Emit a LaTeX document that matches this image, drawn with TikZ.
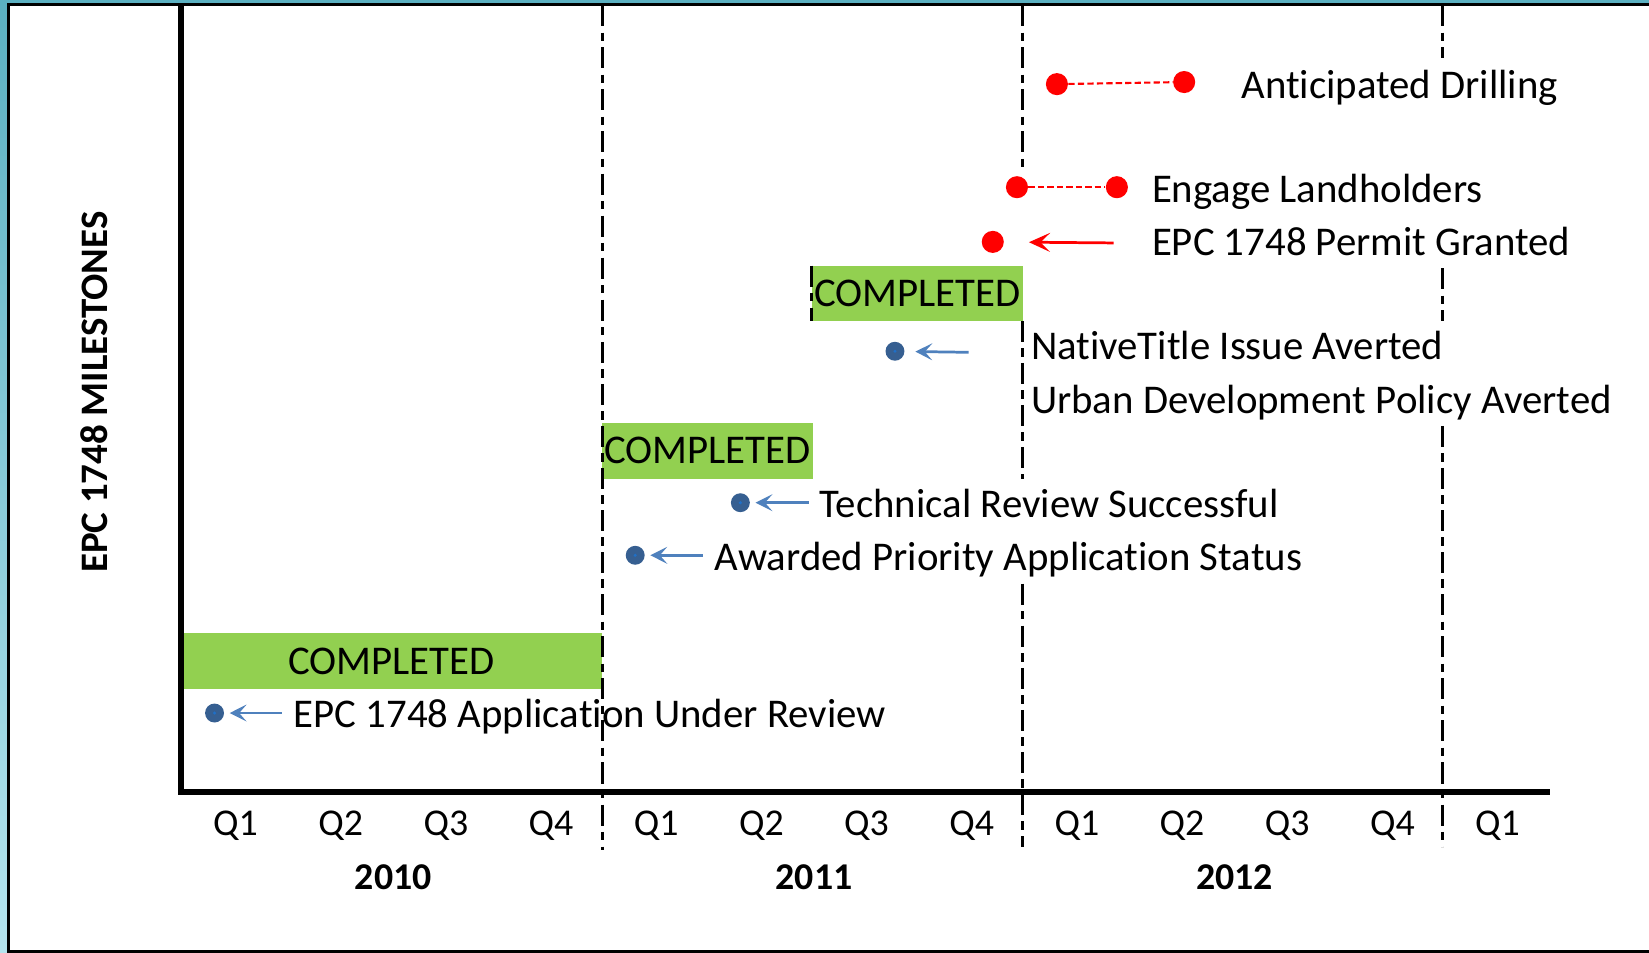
\documentclass[tikz,border=0pt]{standalone}
\usepackage{fontspec}
\setmainfont{Carlito}[Ligatures={NoCommon}]
\usetikzlibrary{arrows.meta}
\definecolor{tealA}{HTML}{5BB0C1}
\definecolor{tealB}{HTML}{B4E4EE}
\definecolor{grn}{HTML}{92D050}
\definecolor{dotblue}{HTML}{365F91}
\definecolor{dotspot}{HTML}{1F70C8}
\definecolor{arrblue}{HTML}{4F81BD}
\definecolor{mred}{HTML}{FF0000}
\begin{document}
\begin{tikzpicture}[x=0.5pt,y=-0.5pt,
 lbl/.style={font=\fontsize{19.4}{23}\selectfont, anchor=base west, inner sep=0pt},
 qlbl/.style={font=\fontsize{18}{22}\selectfont, anchor=base, inner sep=0pt},
 yrlbl/.style={font=\fontsize{18}{22}\selectfont\bfseries, anchor=base, inner sep=0pt},
 donebox/.style={fill=grn, inner sep=0pt, font=\fontsize{19.4}{23}\selectfont},
 bdot/.style={circle, fill=dotblue, minimum size=9pt, inner sep=0pt},
 rdot/.style={circle, fill=mred, minimum size=10.5pt, inner sep=0pt},
 barrow/.style={draw=arrblue, line width=1.3pt, -{Stealth[length=8pt,width=8pt,inset=3.5pt]}, shorten >=2.5pt},
 rarrow/.style={draw=mred, line width=1.3pt, -{Stealth[length=10pt,width=9pt,inset=4.5pt]}, shorten >=11.75pt},
 rdash/.style={draw=mred, line width=1pt, dash pattern=on 3pt off 1.5pt},
 yearline/.style={line width=1.4pt, dash pattern=on 10pt off 3pt on 4pt off 3pt},
]
\useasboundingbox (0,0) rectangle (1568,906);
\clip (0,0) rectangle (1568,906);
% background frame
\shade[top color=tealA, bottom color=tealB] (0,0) rectangle (1568,906);
\draw[line width=1.25pt, fill=white] (8,4) rectangle (1600,904.5);

% completed boxes
\node[donebox, minimum width=200pt, minimum height=26.5pt] (c1) at (372,628.5) {COMPLETED};
\node[donebox, minimum width=100.5pt, minimum height=26.5pt] (c2) at (672.5,428.5) {COMPLETED};
\node[donebox, minimum width=100.5pt, minimum height=26pt] (c3) at (872.5,279) {COMPLETED};

% year boundary lines
\draw[yearline] (572.7,5) -- (572.7,808);
\draw[yearline] (972,5) -- (972,160);
\draw[yearline] (972,305) -- (972,455);
\draw[yearline] (972,555) -- (972,805);
\draw[yearline] (1372,5) -- (1372,55);
\draw[yearline] (1372,255) -- (1372,305);
\draw[yearline] (1372,405) -- (1372,805);
\draw[yearline] (c3.north west) -- (c3.south west);

% axes
\draw[line width=3.2pt] (172,4) -- (172,753) -- (1474,753);

% quarter and year labels
\foreach \i in {0,...,12}{
  \pgfmathtruncatemacro\qq{mod(\i,4)+1}
  \node[qlbl] (q\i) at (224+100*\i,794) {Q\qq};
}
\node[yrlbl] (y2010) at (374,846) {2010};
\node[yrlbl] (y2011) at (774,846) {2011};
\node[yrlbl] (y2012) at (1174,846) {2012};

\node[font=\fontsize{18.5}{22}\selectfont\bfseries, rotate=90, inner sep=0pt] (ytitle) at (90,373) {EPC 1748 MILESTONES};

% blue milestones
\node[bdot] (d1) at (204,678) {};
\node[bdot] (d2) at (604,528) {};
\node[bdot] (d3) at (704,478) {};
\node[bdot] (d4) at (851,334) {};
\foreach \d in {d1,d2,d3,d4}{\fill[dotspot] (\d) circle (1.6);}
\coordinate (a1) at (268,678);
\coordinate (a2) at (668,528);
\coordinate (a3) at (769,478);
\coordinate (a4) at (921,335);
\draw[barrow] (a1) -- (d1);
\draw[barrow] (a2) -- (d2);
\draw[barrow] (a3) -- (d3);
\draw[barrow, shorten >=5pt] (a4) -- (d4);

% red milestones
\node[rdot] (r1) at (1005,80) {};
\node[rdot] (r2) at (1126,78) {};
\draw[rdash] (r1) -- (r2);
\node[rdot] (r3) at (967,178) {};
\node[rdot] (r4) at (1062,178) {};
\draw[rdash] (r3) -- (r4);
\node[rdot] (r5) at (944,230) {};
\coordinate (ra) at (1059,231);
\draw[rarrow] (ra) -- (r5);

% labels
\node[lbl] (t1) at (1180,94) {Anticipated Drilling};
\node[lbl] (t2) at (1095,193) {Engage Landholders};
\node[lbl] (t3) at (1095,243) {EPC 1748 Permit Granted};
\node[lbl] (t4) at (980,342) {NativeTitle Issue Averted};
\node[lbl] (t5) at (980,393) {Urban Development Policy Averted};
\node[lbl] (t6) at (779,492) {Technical Review Successful};
\node[lbl] (t7) at (679,542) {Awarded Priority Application Status};
\node[lbl] (t8) at (279,692) {EPC 1748 Application Under Review};
\end{tikzpicture}
\end{document}
